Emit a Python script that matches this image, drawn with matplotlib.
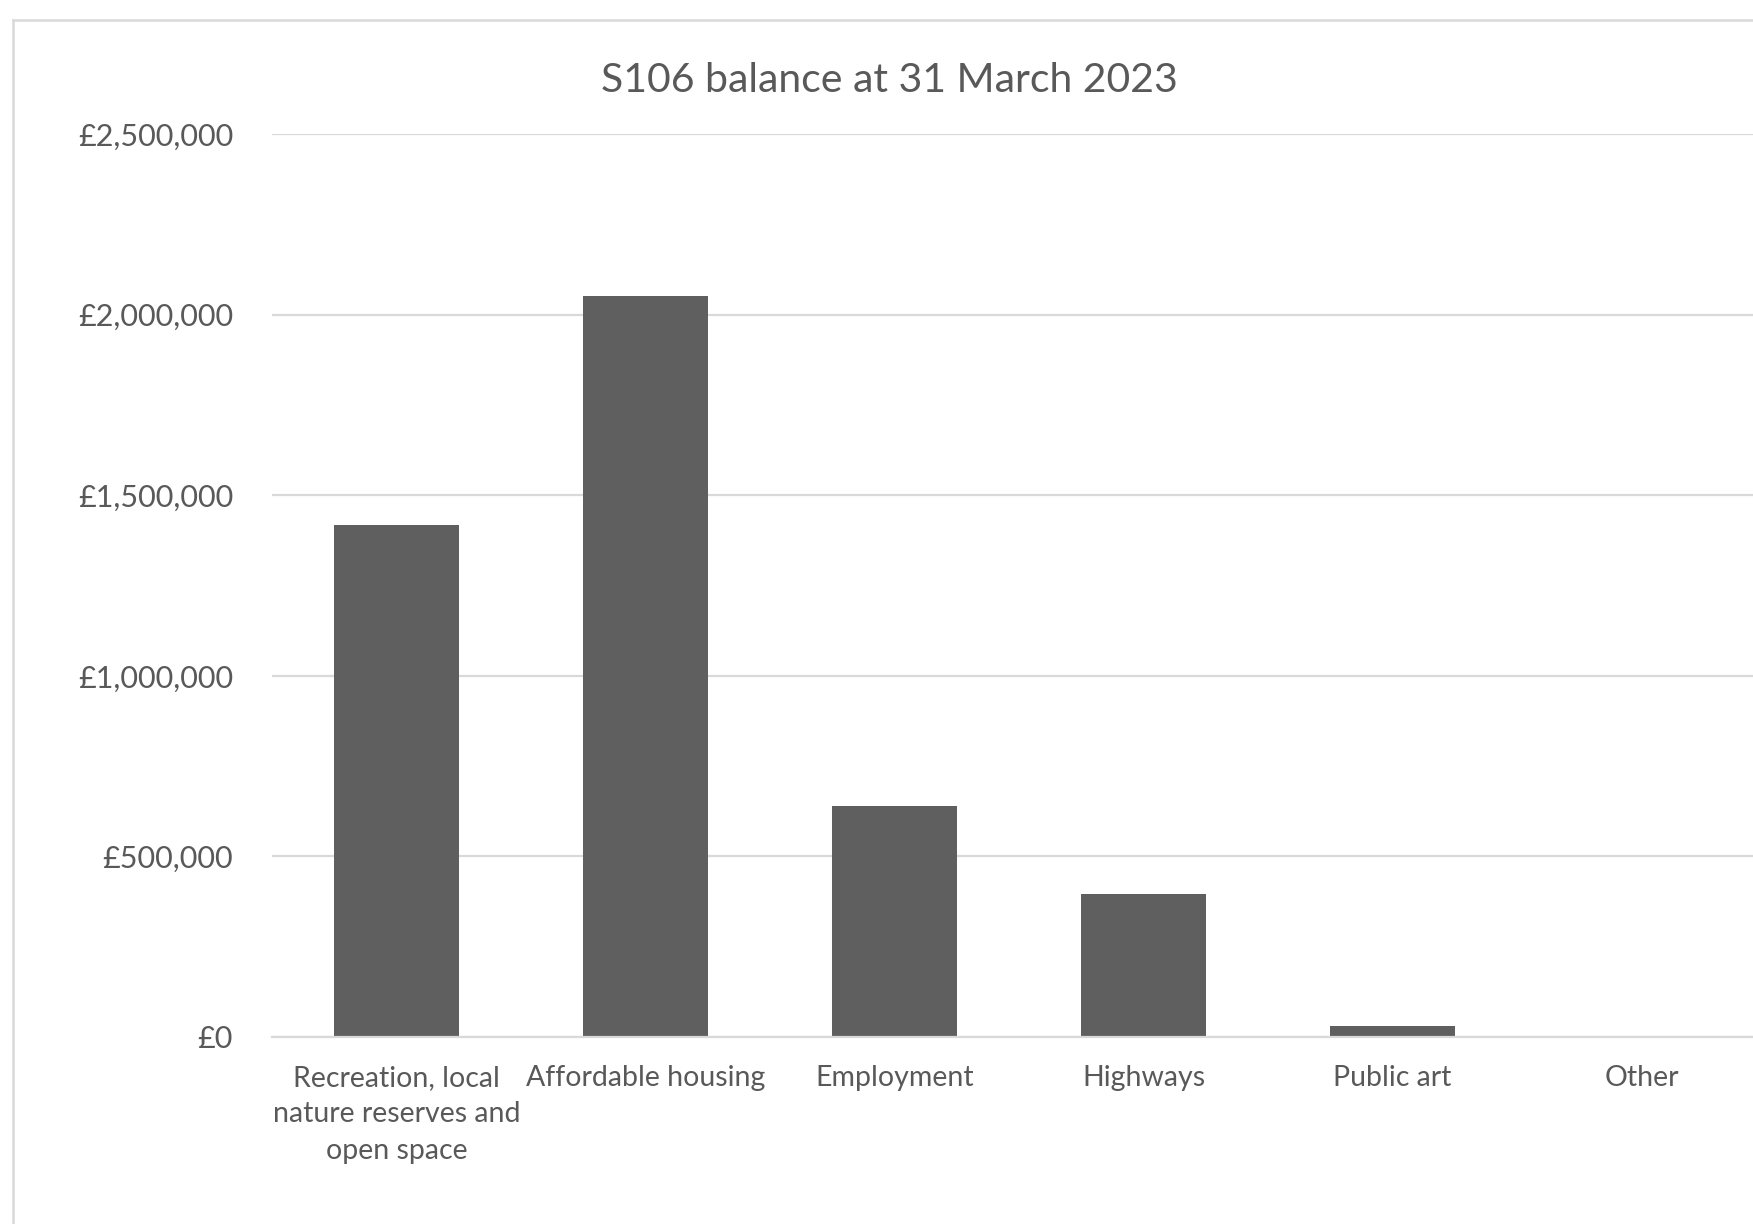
import matplotlib
matplotlib.use("Agg")
import matplotlib.pyplot as plt
from matplotlib.lines import Line2D
from matplotlib.ticker import FuncFormatter, MultipleLocator

categories = ["Recreation, local\nnature reserves and\nopen space", "Affordable housing",
              "Employment", "Highways", "Public art", "Other"]
balances = [1417000, 2052000, 639000, 397000, 31600, 0]
title = "S106 balance at 31 March 2023"

W, H = 1753, 1224
plt.rcParams['font.family'] = ['Lato', 'DejaVu Sans']
text_color = '#595959'
grid_color = '#d9d9d9'
bar_color = '#5f5f5f'

fig = plt.figure(figsize=(W / 100, H / 100), dpi=100)
left_px, right_px, top_px, bottom_px = 272, 1766, 134, 1037
ax = fig.add_axes([left_px / W, 1 - bottom_px / H, (right_px - left_px) / W, (bottom_px - top_px) / H])

x = list(range(len(categories)))
ax.bar(x, balances, width=0.5, color=bar_color, zorder=3)
ax.set_xlim(-0.5, len(categories) - 0.5)
ax.set_ylim(0, 2500000)
ax.yaxis.set_major_locator(MultipleLocator(500000))
ax.yaxis.set_major_formatter(FuncFormatter(lambda v, p: "£{:,.0f}".format(v)))
ax.grid(axis='y', color=grid_color, linewidth=1.6, zorder=0)
ax.set_axisbelow(True)
for s in ['top', 'right', 'left']:
    ax.spines[s].set_visible(False)
ax.spines['bottom'].set_color(grid_color)
ax.spines['bottom'].set_linewidth(1.6)
ax.spines['bottom'].set_zorder(4)
ax.set_xticks(x)
ax.set_xticklabels(categories, linespacing=1.5)
ax.tick_params(axis='both', length=0, colors=text_color)
ax.tick_params(axis='y', pad=28, labelsize=22)
ax.tick_params(axis='x', pad=20, labelsize=20.5)

fig.text(889 / W, 1 - 92 / H, title, ha='center', va='baseline', fontsize=29.5, color=text_color)

# chart area border (top and left visible)
fig.add_artist(Line2D([13 / W, 1.01], [1 - 20 / H, 1 - 20 / H], color=grid_color, linewidth=1.8, transform=fig.transFigure))
fig.add_artist(Line2D([13 / W, 13 / W], [1 - 20 / H, -0.01], color=grid_color, linewidth=1.8, transform=fig.transFigure))

fig.savefig("out.png", dpi=100)
